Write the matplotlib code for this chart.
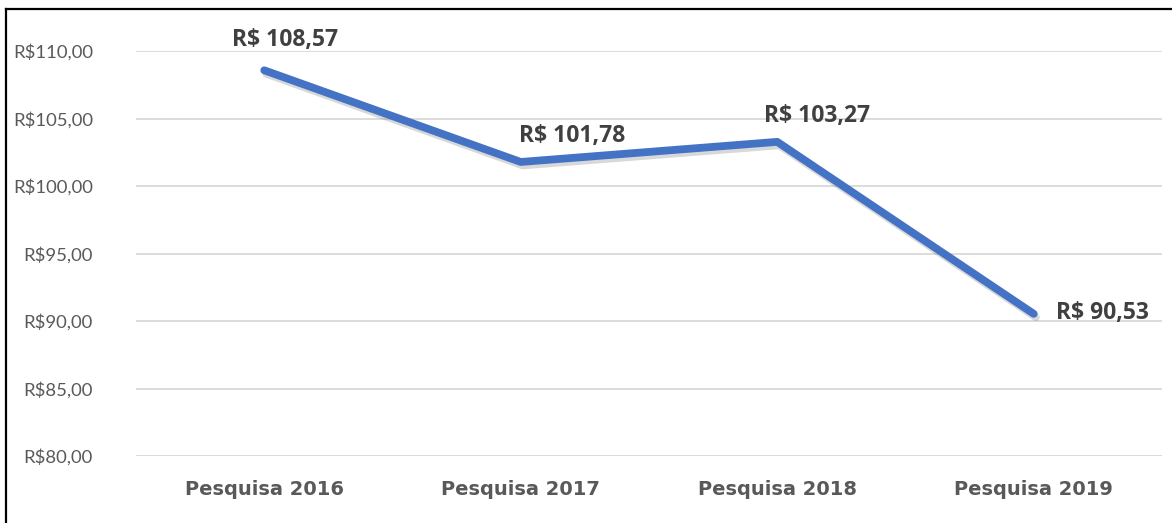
import matplotlib
matplotlib.use("Agg")
import matplotlib.pyplot as plt
import matplotlib.patheffects as pe
from matplotlib.lines import Line2D

categories = ["Pesquisa 2016", "Pesquisa 2017", "Pesquisa 2018", "Pesquisa 2019"]
values = [108.57, 101.78, 103.27, 90.53]
value_labels = ["R$ 108,57", "R$ 101,78", "R$ 103,27", "R$ 90,53"]
yticks = [80, 85, 90, 95, 100, 105, 110]
ytick_labels = ["R$80,00", "R$85,00", "R$90,00", "R$95,00", "R$100,00", "R$105,00", "R$110,00"]

W, H = 1172, 523
fig = plt.figure(figsize=(W / 100, H / 100), dpi=100)
ax = fig.add_axes([136 / W, 67 / H, (1162 - 136) / W, (456 - 51) / H])

x = list(range(len(categories)))
ax.plot(x, values, color="#4472C4", linewidth=5.6, solid_capstyle="round",
        solid_joinstyle="round", zorder=3,
        path_effects=[pe.SimpleLineShadow(offset=(1.5, -2.5), shadow_color="gray", alpha=0.3),
                      pe.Normal()])

ax.set_xlim(-0.5, len(categories) - 0.5)
ax.set_ylim(80, 110)
ax.set_yticks(yticks)
ax.set_yticklabels(ytick_labels, fontsize=13.3, color="#595959", family="Lato")
ax.set_xticks(x)
ax.set_xticklabels(categories, fontsize=14, fontweight="bold", color="#595959", family="DejaVu Sans")
ax.tick_params(axis="both", length=0)
ax.tick_params(axis="y", pad=31)
ax.tick_params(axis="x", pad=17)
ax.grid(axis="y", color="#D9D9D9", linewidth=1.3)
ax.set_axisbelow(True)
for s in ax.spines.values():
    s.set_visible(False)

offsets = [(21, 30, "center", "center"), (51, 26, "center", "center"),
           (40, 26, "center", "center"), (22, 1, "left", "center")]
for xi, v, lab, (dx, dy, ha, va) in zip(x, values, value_labels, offsets):
    ax.annotate(lab, (xi, v), xytext=(dx, dy), textcoords="offset pixels",
                ha=ha, va=va, fontsize=16.5, fontweight="bold", color="#404040",
                family="Open Sans", zorder=4)

fig.add_artist(Line2D([6 / W, 6 / W], [0, 1 - 9 / H], transform=fig.transFigure, color="black", linewidth=1.6))
fig.add_artist(Line2D([6 / W, 1], [1 - 9 / H, 1 - 9 / H], transform=fig.transFigure, color="black", linewidth=1.6))

fig.savefig("out.png", dpi=100)
